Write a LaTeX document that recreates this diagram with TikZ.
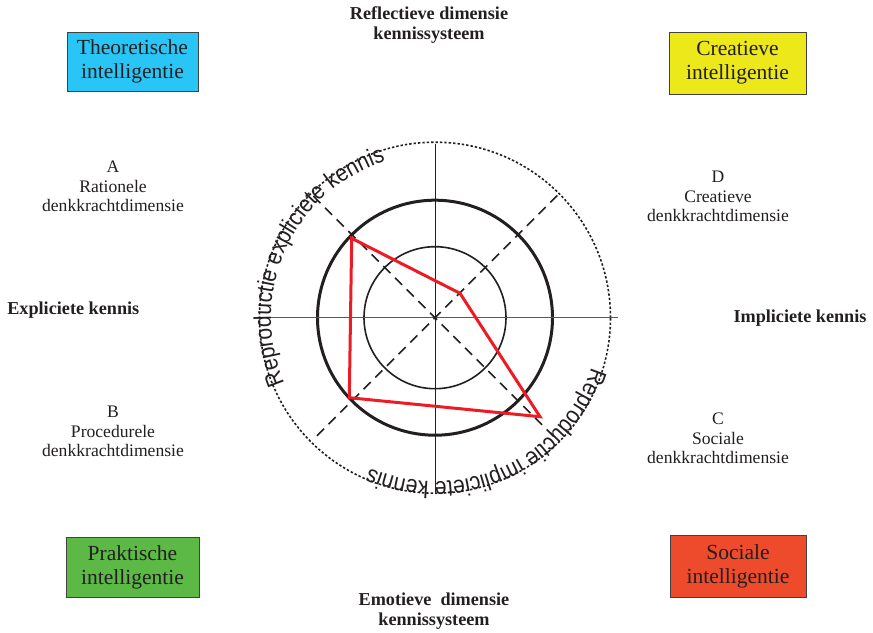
\documentclass[tikz,border=0pt]{standalone}
\usepackage{fontspec}
\setmainfont{Liberation Serif}
\setsansfont{Liberation Sans}
\newfontfamily\arcfamily[FakeStretch=0.88]{Liberation Sans}
\usetikzlibrary{decorations.text}
\definecolor{ink}{HTML}{231F20}
\definecolor{theoblue}{HTML}{29C5F6}
\definecolor{creayellow}{HTML}{ECE81A}
\definecolor{prakgreen}{HTML}{5CB946}
\definecolor{socred}{HTML}{EE4A2C}
\definecolor{profilered}{HTML}{ED1C24}
\definecolor{axisgray}{HTML}{5A5A5A}
\begin{document}
\begin{tikzpicture}[x=1pt,y=1pt,
  intbox/.style={draw=ink!85, line width=0.8pt, minimum width=133pt, minimum height=60pt,
    align=center, inner sep=0pt, text=ink, font=\fontsize{21.5}{24}\selectfont},
  dimlabel/.style={align=center, text=ink, inner sep=0pt, font=\fontsize{17.6}{19.5}\selectfont},
  axislabel/.style={align=center, text=ink, inner sep=0pt, font=\fontsize{18.2}{20}\selectfont\bfseries},
  ringthick/.style={draw=ink, line width=3pt},
  ringthin/.style={draw=ink, line width=1.6pt},
  ringdotted/.style={draw=ink, line width=1.6pt, dash pattern=on 2.4pt off 2pt},
  diagdash/.style={draw=ink, line width=1.5pt, dash pattern=on 10pt off 6.5pt},
  profile/.style={draw=profilered, line width=3pt, line join=miter},
  arctext/.style={decorate, decoration={text along path, text align=center, text color=ink,
    text={|\arcfamily\fontsize{24}{24}\selectfont|#1}}}]
\useasboundingbox (-435,-314.3) rectangle (438,317.7);

% concentric rings
\draw[ringdotted] (0,0) circle[radius=175.5];
\draw[ringthick] (0,0) circle[radius=117.5];
\draw[ringthin] (0,0) circle[radius=71];

% axes
\coordinate (ntop) at (0,174);
\coordinate (nbot) at (0,-176);
\coordinate (wleft) at (-175,0);
\coordinate (eright) at (183,0);
\draw[ink, line width=0.9pt] (ntop) -- (nbot);
\draw[axisgray, line width=0.9pt] (wleft) -- (eright);

% dashed diagonals
\coordinate (nw) at (135:172);
\coordinate (se) at (-45:170);
\coordinate (ne) at (45:173);
\coordinate (sw) at (225:169);
\draw[diagdash] (nw) -- (se);
\draw[diagdash] (ne) -- (sw);

% profile
\coordinate (pA) at (-83.3,79.4);
\coordinate (pD) at (25,24.4);
\coordinate (pC) at (105,-99);
\coordinate (pB) at (-85.7,-80);
\draw[profile] (pA) -- (pD) -- (pC) -- (pB) -- cycle;

% curved texts along the dotted ring
\path[arctext={Reproductie expliciete kennis}]
  (206:164) arc[start angle=206, end angle=105, radius=164];
\path[arctext={Reproductie impliciete kennis}]
  (-15:164) arc[start angle=-15, end angle=-116, radius=164];

% intelligence boxes
\node[intbox, fill=theoblue, minimum width=131pt, minimum height=59pt] (theo) at (-302.5,256.2) {Theoretische\\intelligentie};
\node[intbox, fill=creayellow, minimum width=137pt, minimum height=62pt] (crea) at (302.5,254.7) {Creatieve\\intelligentie};
\node[intbox, fill=prakgreen] (prak) at (-302.5,-249.3) {Praktische\\intelligentie};
\node[intbox, fill=socred, minimum width=136pt, minimum height=62pt] (soc) at (303,-248.3) {Sociale\\intelligentie};

% quadrant labels
\node[dimlabel] (dimA) at (-322,131) {A\\Rationele\\denkkrachtdimensie};
\node[dimlabel] (dimB) at (-322,-114) {B\\Procedurele\\denkkrachtdimensie};
\node[dimlabel] (dimD) at (283,121) {D\\Creatieve\\denkkrachtdimensie};
\node[dimlabel] (dimC) at (283,-120.6) {C\\Sociale\\denkkrachtdimensie};

% axis labels
\node[axislabel] (expl) at (-361.7,7.7) {Expliciete kennis};
\node[axislabel] (impl) at (365,-0.6) {Impliciete kennis};
\node[axislabel] (refl) at (-6,292.7) {Reflectieve dimensie\\kennissysteem};
\node[axislabel] (emot) at (-1,-293.5) {Emotieve~~dimensie\\kennissysteem};
\end{tikzpicture}
\end{document}
